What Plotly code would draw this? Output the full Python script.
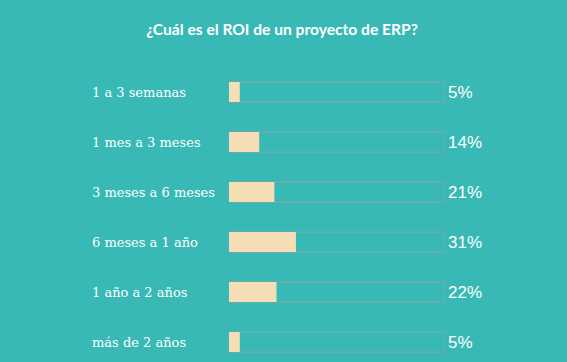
import plotly.graph_objects as go

categories = ["1 a 3 semanas", "1 mes a 3 meses", "3 meses a 6 meses",
              "6 meses a 1 año", "1 año a 2 años", "más de 2 años"]
values = [5, 14, 21, 31, 22, 5]
track = [100] * len(categories)
pos = list(range(len(categories)))

BG = "#38b9b6"
W, H = 567, 362
fig = go.Figure()
fig.add_trace(go.Bar(x=track, y=pos, orientation="h", width=0.4,
                     marker=dict(color="rgba(0,0,0,0)", line=dict(color="#8fa3a1", width=1)),
                     hoverinfo="skip", showlegend=False))
fig.add_trace(go.Bar(x=values, y=pos, orientation="h", width=0.4,
                     marker=dict(color="#f5ddb5", line=dict(width=0)),
                     showlegend=False))

for i, (c, v) in enumerate(zip(categories, values)):
    fig.add_annotation(x=-0.6435, xref="paper", y=i, yref="y", text=c,
                       xanchor="left", yanchor="middle", showarrow=False,
                       font=dict(family="DejaVu Serif", size=13, color="white"))
    fig.add_annotation(x=100, xref="x", y=i, yref="y", text=f"{v}%",
                       xanchor="left", yanchor="middle", showarrow=False, xshift=1,
                       font=dict(family="Liberation Sans", size=17, color="white"))

fig.update_layout(
    width=W, height=H, paper_bgcolor=BG, plot_bgcolor=BG,
    margin=dict(l=229, r=122, t=67, b=0),
    barmode="overlay",
    title=dict(text="<b>¿Cuál es el ROI de un proyecto de ERP?</b>", x=282 / W, xanchor="center",
               y=1 - 30 / H, yanchor="middle",
               font=dict(family="Lato", size=15.6, color="white")),
    xaxis=dict(range=[0, 100], visible=False, fixedrange=True),
    yaxis=dict(range=[5.4, -0.5], visible=False, fixedrange=True),
)
fig.write_html("out.html", config={"displayModeBar": False},
               post_script="document.body.style.margin='0';document.body.style.background='#38b9b6';document.body.style.overflow='hidden';")
